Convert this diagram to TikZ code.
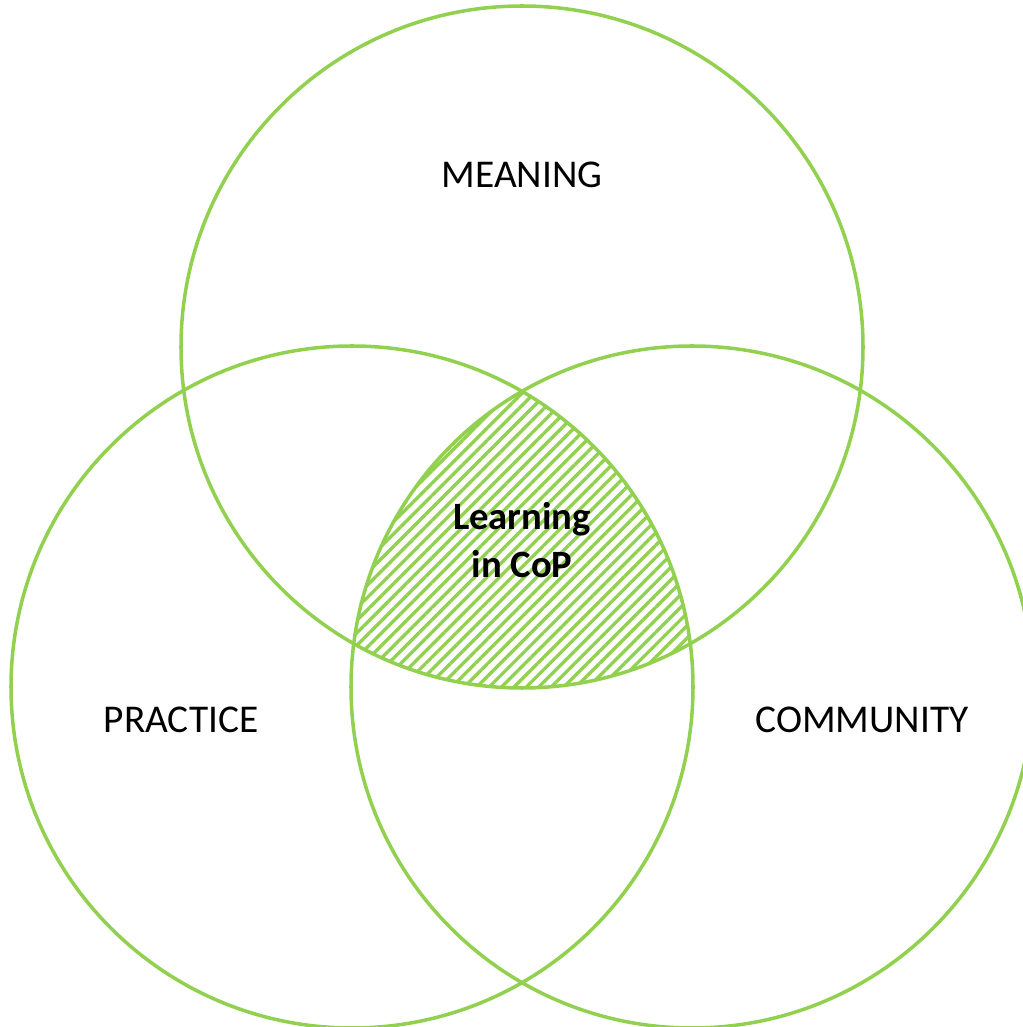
\documentclass[tikz,border=0pt]{standalone}
\usepackage{fontspec}
\setmainfont{Carlito}
\usetikzlibrary{patterns.meta}
\definecolor{leafgreen}{RGB}{146,208,80}

\begin{document}
\begin{tikzpicture}[
    ring/.style={draw=leafgreen, line width=1pt},
    label/.style={font=\fontsize{11.2}{13}\selectfont, text=black},
    core/.style={font=\fontsize{11}{13.5}\selectfont\bfseries, align=center, text=black}
]
    \useasboundingbox (0,0) rectangle (10.23,10.27);

    % Circle centres
    \coordinate (m) at (5.22,6.80);
    \coordinate (p) at (3.52,3.40);
    \coordinate (c) at (6.92,3.40);

    % Hatched overlap of all three
    \begin{scope}
        \clip (m) circle (3.41);
        \clip (p) circle (3.41);
        \fill[pattern={Lines[angle=45, distance=2.5pt, line width=0.95pt]}, pattern color=leafgreen]
            (c) circle (3.41);
    \end{scope}

    % Three circles
    \draw[ring] (m) circle (3.41);
    \draw[ring] (p) circle (3.41);
    \draw[ring] (c) circle (3.41);

    % Labels
    \node[label] (meaning) at (5.22,8.52) {MEANING};
    \node[label] (practice) at (1.81,3.07) {PRACTICE};
    \node[label] (community) at (8.62,3.07) {COMMUNITY};
    \node[core] (learning) at (5.22,4.87) {Learning\\in CoP};
\end{tikzpicture}
\end{document}
